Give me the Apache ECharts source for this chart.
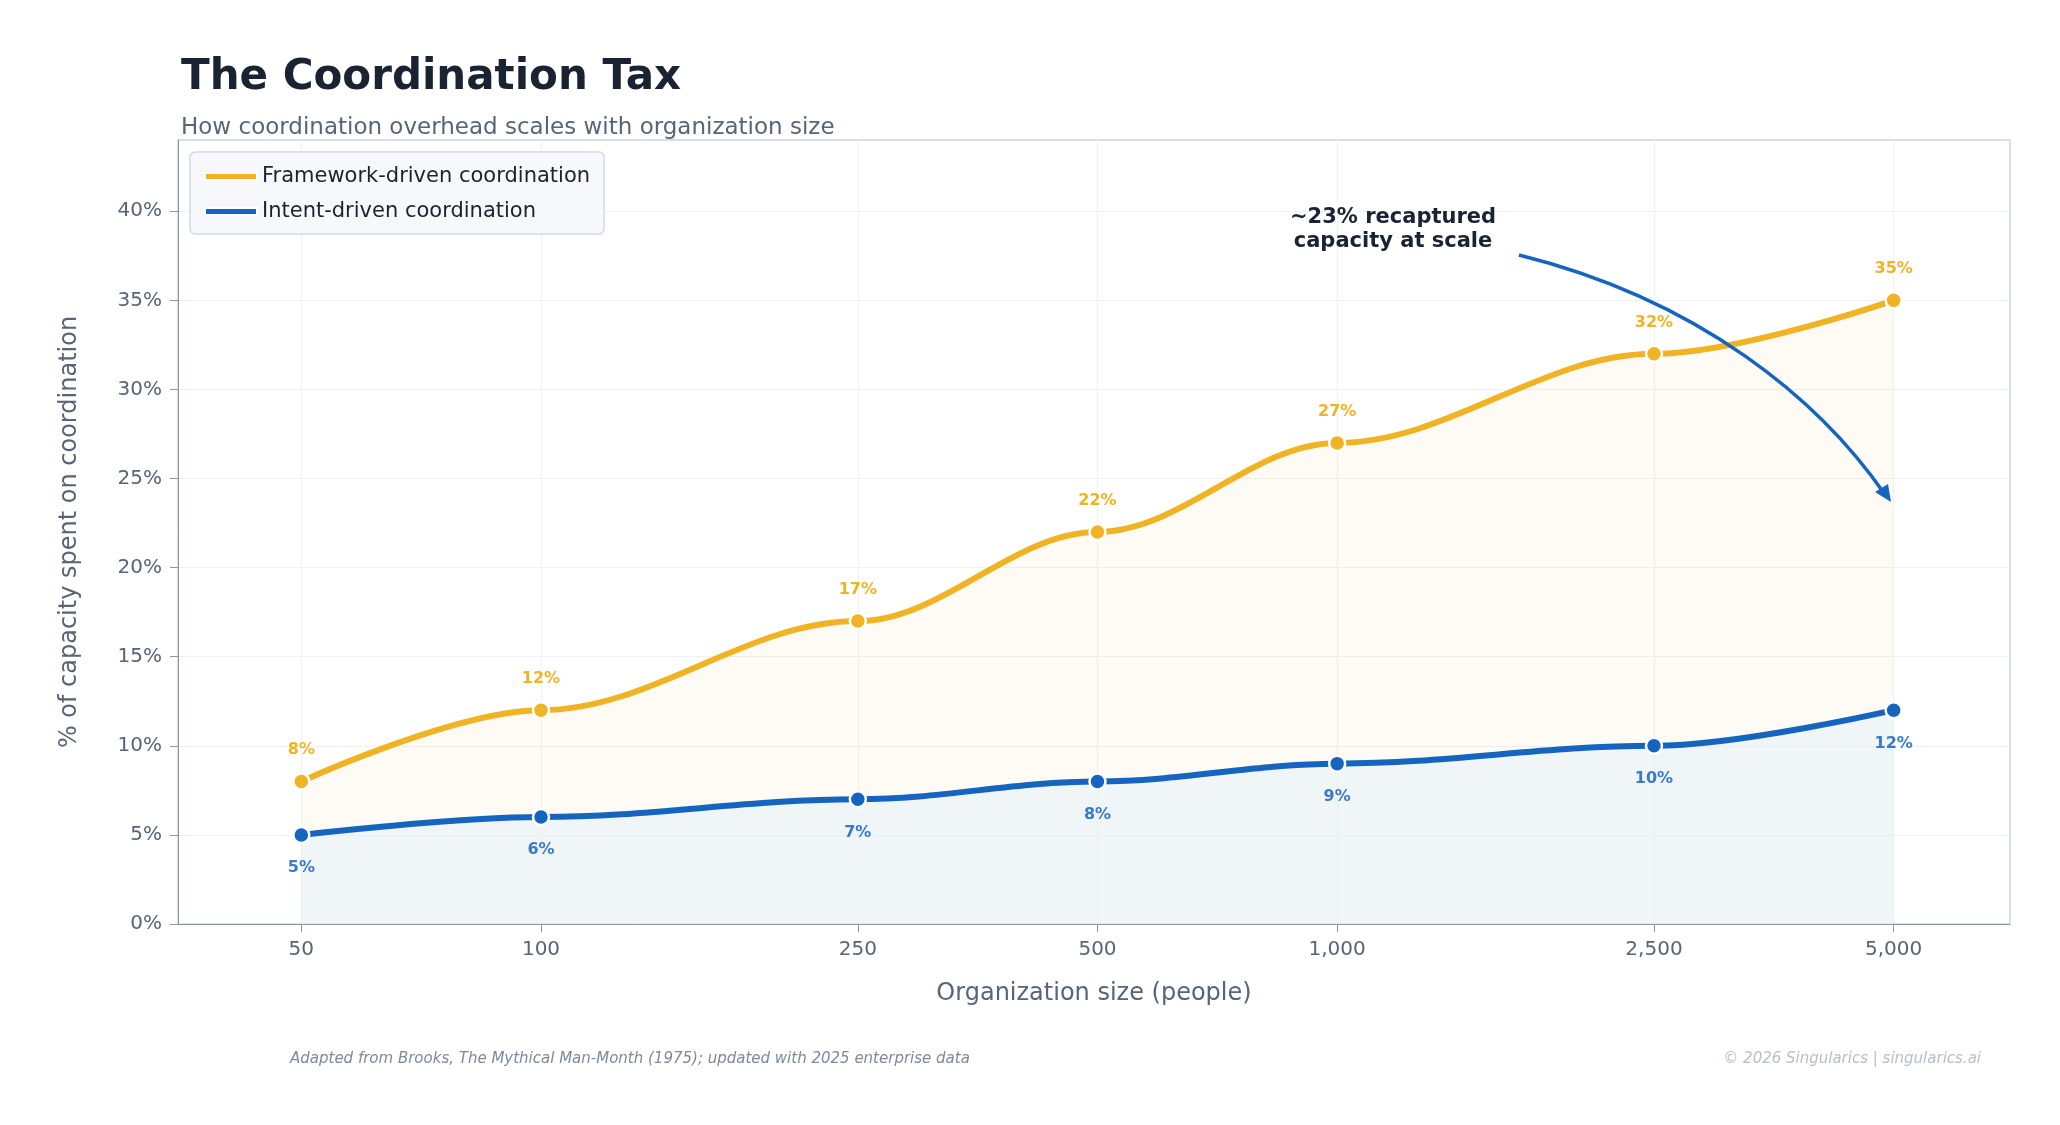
<!DOCTYPE html>
<html><head><meta charset="utf-8">
<script src="https://cdn.jsdelivr.net/npm/echarts@6/dist/echarts.min.js"></script>
<style>html,body{margin:0;background:#fff}#c{width:2060px;height:1125px}</style>
</head><body><div id="c"></div>
<script>
const sizes = [50, 100, 250, 500, 1000, 2500, 5000];
const framework = [8, 12, 17, 22, 27, 32, 35];
const intent = [5, 6, 7, 8, 9, 10, 12];
const yTicks = [0, 5, 10, 15, 20, 25, 30, 35, 40];

const lg = v => Math.log10(v);
const fw = sizes.map((s,i)=>[lg(s), framework[i]]);
const it = sizes.map((s,i)=>[lg(s), intent[i]]);
const YEL = '#F0B323', BLU = '#1565C0';
const font = 'DejaVu Sans';
const chart = echarts.init(document.getElementById('c'));
chart.setOption({
  backgroundColor:'#fff',
  textStyle:{fontFamily:font},
  title:[
    {text:'The Coordination Tax', left:176, top:52, textStyle:{fontSize:42, fontWeight:'bold', color:'#1a2332', fontFamily:font}},
    {text:'How coordination overhead scales with organization size', left:176, top:112, textStyle:{fontSize:23, fontWeight:'normal', color:'#566577', fontFamily:font}}
  ],
  legend:{left:190, top:152, orient:'vertical', itemWidth:52, itemHeight:7, itemGap:14,
    padding:[14,14,12,14], backgroundColor:'#f6f8fb', borderColor:'#d2dae5', borderWidth:1.5, borderRadius:5,
    textStyle:{fontSize:21, color:'#1a2332'},
    data:[{name:'Framework-driven coordination', icon:'rect'},{name:'Intent-driven coordination', icon:'rect'}]},
  grid:{left:178, right:50, top:140, bottom:201, show:true, borderColor:'#cbd5e1', borderWidth:1.5},
  xAxis:{type:'value', min:lg(35), max:lg(7000),
    name:'Organization size (people)', nameLocation:'middle', nameGap:58, nameTextStyle:{fontSize:24, color:'#566577'},
    axisLine:{show:true, lineStyle:{color:'#8a97a8'}},
    axisTick:{show:true, customValues:sizes.map(lg), length:8, lineStyle:{color:'#8a97a8'}},
    axisLabel:{customValues:sizes.map(lg), fontSize:20, color:'#566577', margin:16,
      formatter:v=>Math.round(Math.pow(10,v)).toLocaleString('en-US')},
    splitLine:{show:true, lineStyle:{color:'#eef1f5'}}},
  yAxis:{type:'value', min:0, max:44, interval:5,
    name:'% of capacity spent on coordination', nameLocation:'middle', nameGap:96, nameTextStyle:{fontSize:24, color:'#566577'},
    axisLine:{show:true, lineStyle:{color:'#8a97a8'}},
    axisTick:{show:true, customValues:yTicks, length:8, lineStyle:{color:'#8a97a8'}},
    axisLabel:{customValues:yTicks, fontSize:20, color:'#566577', margin:16, formatter:v=>v+'%'},
    splitLine:{show:true, lineStyle:{color:'#eef1f5'}}},
  series:[
    {name:'Framework-driven coordination', type:'line', data:fw, smooth:0.35, smoothMonotone:'x',
      symbol:'circle', symbolSize:16, z:3,
      lineStyle:{color:YEL, width:6}, itemStyle:{color:YEL, borderColor:'#fff', borderWidth:2.5},
      areaStyle:{color:'rgba(240,179,35,0.07)'},
      label:{show:true, position:'top', distance:14, color:YEL, fontSize:16, fontWeight:'bold', formatter:p=>p.value[1]+'%'}},
    {name:'Intent-driven coordination', type:'line', data:it, smooth:0.35, smoothMonotone:'x',
      symbol:'circle', symbolSize:16, z:4,
      lineStyle:{color:BLU, width:6}, itemStyle:{color:BLU, borderColor:'#fff', borderWidth:2.5},
      areaStyle:{color:'rgba(232,240,250,0.9)'},
      label:{show:true, position:'bottom', distance:16, color:'#3a7bc8', fontSize:16, fontWeight:'bold', formatter:p=>p.value[1]+'%'}}
  ],
  graphic:[
    {type:'text', left:1290, top:206, z:10, style:{text:'~23% recaptured\ncapacity at scale', textAlign:'center', x:110, font:'bold 21px DejaVu Sans', fill:'#1a2332', lineHeight:24}},
    {type:'bezierCurve', z:10, shape:{x1:1519,y1:255,x2:1886,y2:496,cpx1:1700,cpy1:300,cpx2:1820,cpy2:400}, style:{stroke:BLU, lineWidth:3.5, fill:null}},
    {type:'polygon', z:10, shape:{points:[[1891,502],[1875,492],[1888,484]]}, style:{fill:BLU}},
    {type:'text', left:290, top:1052, style:{text:'Adapted from Brooks, The Mythical Man-Month (1975); updated with 2025 enterprise data', font:'italic 15px DejaVu Sans', fill:'#7d8a9c'}},
    {type:'text', right:79, top:1052, style:{text:'© 2026 Singularics | singularics.ai', font:'italic 15px DejaVu Sans', fill:'#b5bfcc'}}
  ]
});
</script></body></html>
